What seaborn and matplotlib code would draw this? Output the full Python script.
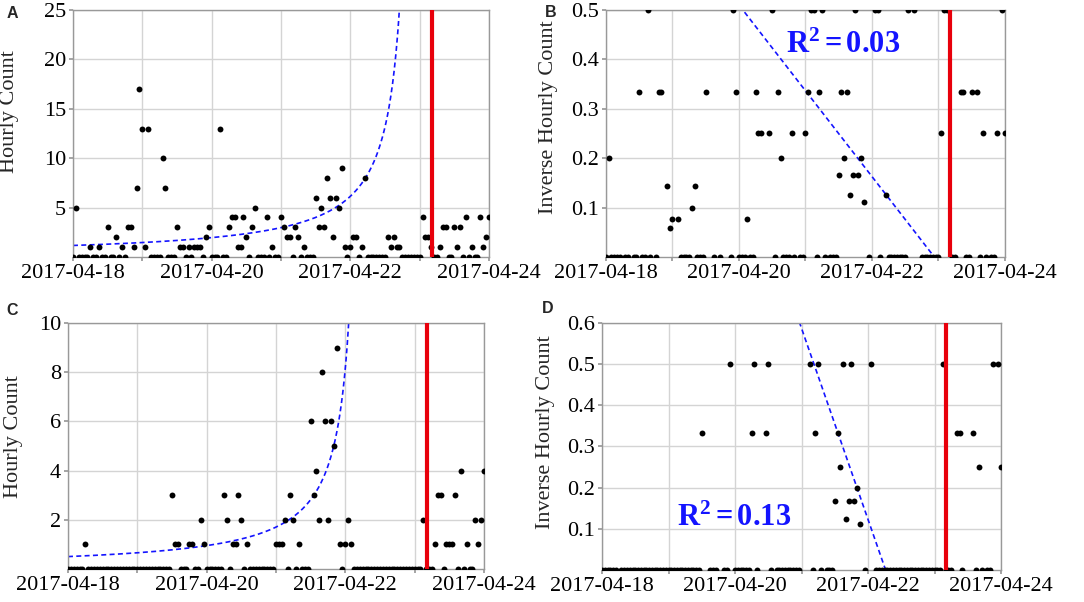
import numpy as np
import pandas as pd
import matplotlib
matplotlib.use("Agg")
import matplotlib.pyplot as plt
import matplotlib.dates as mdates
import seaborn as sns

# ---------------- data ----------------
start = pd.Timestamp("2017-04-18 00:00")
hours = list(range(145))  # hourly samples 2017-04-18 00:00 .. 2017-04-24 00:00

counts_ab = [
    0, 5, 0, 0, 0, 0, 1, 0, 0, 1, 0, 0, 3, 0, 0, 2, 0, 1, 0, 3, 3, 1, 7, 17,
    13, 1, 13, 0, 0, 0, 0, 10, 7, 0, 0, 0, 3, 1, 1, 0, 1, 0, 1, 1, 1, 0, 2, 3,
    0, 0, 0, 13, 0, 0, 3, 4, 4, 1, 1, 4, 2, 0, 3, 5, 0, 0, 0, 4, 0, 1, 0, 0,
    4, 3, 2, 2, 0, 3, 2, 0, 1, 0, 0, 0, 6, 3, 5, 3, 8, 6, 2, 6, 5, 9, 1, 0,
    1, 2, 2, 0, 1, 8, 0, 0, 0, 0, 0, 0, 0, 2, 1, 2, 1, 1, 0, 0, 0, 0, 0, 0,
    0, 4, 2, 2, 1, 0, 0, 1, 3, 3, 0, 0, 3, 1, 3, 0, 4, 0, 1, 0, 0, 4, 1, 2,
    4,
]
counts_cd = [
    0, 0, 0, 0, 0, 0, 1, 0, 0, 0, 0, 0, 0, 0, 0, 0, 0, 0, 0, 0, 0, 0, 0, 0,
    0, 0, 0, 0, 0, 0, 0, 0, 0, 0, 0, 0, 3, 1, 1, 0, 0, 0, 1, 1, 0, 0, 2, 1,
    0, 0, 0, 0, 0, 0, 3, 2, 0, 1, 1, 3, 2, 0, 1, 0, 0, 0, 0, 0, 0, 0, 0, 0,
    1, 1, 1, 2, 0, 3, 2, 0, 1, 0, 0, 0, 6, 3, 4, 2, 8, 6, 2, 6, 5, 9, 1, 0,
    1, 2, 1, 0, 0, 0, 0, 0, 0, 0, 0, 0, 0, 0, 0, 0, 0, 0, 0, 0, 0, 0, 0, 0,
    0, 0, 0, 2, 0, 0, 0, 1, 3, 3, 0, 1, 1, 1, 3, 0, 4, 0, 1, 0, 0, 2, 1, 2,
    4,
]

fit_ab = (0.8575, -0.007236)
fit_cd = (1.980, -0.01935)
r2_ab = "0.03"
r2_cd = "0.13"

event_time = pd.Timestamp("2017-04-23 04:18")

x_ticks = pd.date_range("2017-04-18", "2017-04-24", freq="D")
x_ticklabels = ["2017-04-18", "", "2017-04-20", "", "2017-04-22", "", "2017-04-24"]

yticks_a = [5, 10, 15, 20, 25]
yticks_b = [0.1, 0.2, 0.3, 0.4, 0.5]
yticks_c = [2, 4, 6, 8, 10]
yticks_d = [0.1, 0.2, 0.3, 0.4, 0.5, 0.6]

# ---------------- style ----------------
SERIF = ["Liberation Serif", "DejaVu Serif"]
SANS = ["Liberation Sans", "DejaVu Sans"]
sns.set_theme(style="whitegrid")
plt.rcParams.update({
    "font.family": SERIF,
    "mathtext.fontset": "custom",
    "mathtext.rm": "Liberation Serif",
    "mathtext.bf": "Liberation Serif:bold",
    "mathtext.it": "Liberation Serif:italic",
    "axes.edgecolor": "#999999",
    "axes.linewidth": 1.0,
    "grid.color": "#d4d4d4",
    "grid.linewidth": 1.0,
    "xtick.bottom": True,
    "ytick.left": True,
    "xtick.color": "#999999",
    "ytick.color": "#999999",
    "xtick.labelcolor": "black",
    "ytick.labelcolor": "black",
    "xtick.major.size": 3,
    "ytick.major.size": 3,
})

times = [start + pd.Timedelta(hours=h) for h in hours]
inv_ab = [1.0 / c if c > 0 else 0.0 for c in counts_ab]
inv_cd = [1.0 / c if c > 0 else 0.0 for c in counts_cd]

fig = plt.figure(figsize=(10.84, 6.02), dpi=100)
axA = fig.add_axes([0.0673, 0.5731, 0.3838, 0.4103])
axB = fig.add_axes([0.5590, 0.5731, 0.3681, 0.4103])
axC = fig.add_axes([0.0627, 0.0548, 0.3838, 0.4086])
axD = fig.add_axes([0.5554, 0.0532, 0.3681, 0.4103])

BLUE = "#1414ff"
RED = "#e8000b"


def fit_curves(fit, inverse):
    b0, b1 = fit
    h0 = -b0 / b1
    if inverse:
        hh = np.linspace(0, 144, 300)
        yy = b0 + b1 * hh
    else:
        hh = np.linspace(0, h0 - (1.0 / 40) / (-b1), 600)
        yy = 1.0 / (b0 + b1 * hh)
    tt = [start + pd.Timedelta(hours=float(h)) for h in hh]
    return pd.DataFrame({"t": tt, "y": yy})


def style_axis(ax, ylim, yticks, ylabel, lab_xy):
    ax.set_xlim(x_ticks[0], x_ticks[-1])
    ax.set_ylim(*ylim)
    ax.set_xticks(x_ticks)
    ax.set_xticklabels(x_ticklabels, fontfamily=SERIF, fontsize=16)
    ax.set_yticks(yticks)
    ax.set_yticklabels([("%g" % v) for v in yticks], fontfamily=SERIF, fontsize=16)
    ax.tick_params(axis="both", labelsize=16, pad=2)
    ax.set_xlabel("")
    ax.set_ylabel(ylabel, fontsize=16, fontfamily=SERIF)
    ax.yaxis.set_label_coords(*lab_xy)
    ax.grid(True)
    for s in ax.spines.values():
        s.set_color("#999999")
    ax.axvline(event_time, color=RED, lw=3, zorder=4)


panels = [
    (axA, counts_ab, fit_ab, False, (0, 25), yticks_a, "Hourly Count", (-0.13, 0.588)),
    (axB, inv_ab, fit_ab, True, (0, 0.5), yticks_b, "Inverse Hourly Count", (-0.12, 0.568)),
    (axC, counts_cd, fit_cd, False, (0, 10), yticks_c, "Hourly Count", (-0.108, 0.538)),
    (axD, inv_cd, fit_cd, True, (0, 0.6), yticks_d, "Inverse Hourly Count", (-0.118, 0.56)),
]

for ax, vals, fit, inv, ylim, yt, ylab, labxy in panels:
    df = pd.DataFrame({"t": times, "y": vals})
    sns.scatterplot(data=df, x="t", y="y", ax=ax, color="black", s=18,
                    linewidth=0, zorder=3)
    cdf = fit_curves(fit, inv)
    sns.lineplot(data=cdf, x="t", y="y", ax=ax, color=BLUE, lw=1.2,
                 linestyle=(0, (3, 2)), zorder=2, estimator=None, sort=False)
    style_axis(ax, ylim, yt, ylab, labxy)

# R^2 annotations
axB.text(mdates.date2num(start + pd.Timedelta(hours=65.0)), 0.413,
         r"$\mathbf{R^2 = " + r2_ab + "}$", color=BLUE, fontsize=22,
         ha="left", va="baseline", zorder=5)
axD.text(mdates.date2num(start + pd.Timedelta(hours=27.0)), 0.107,
         r"$\mathbf{R^2 = " + r2_cd + "}$", color=BLUE, fontsize=22,
         ha="left", va="baseline", zorder=5)

# panel letters
for lbl, (x, y) in {"A": (0.011, 0.978), "B": (0.508, 0.980),
                    "C": (0.011, 0.485), "D": (0.5055, 0.488)}.items():
    fig.text(x, y, lbl, fontsize=11.5, fontweight="bold",
             family=SANS, ha="center", va="center")

fig.savefig("out.png", dpi=100)
